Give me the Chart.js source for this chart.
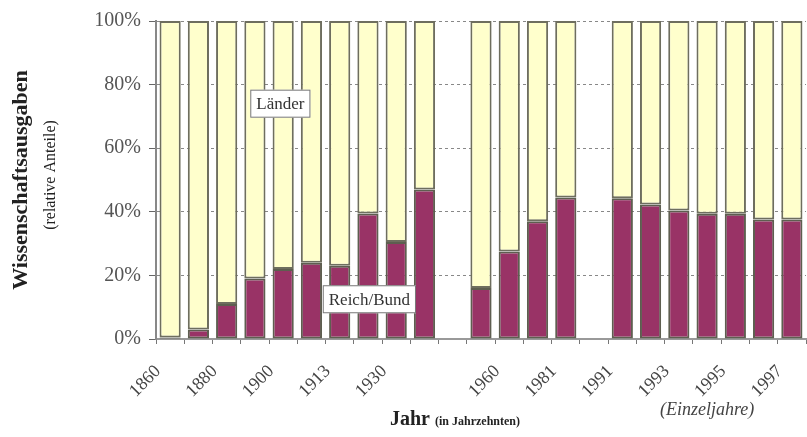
<!DOCTYPE html>
<html>
<head>
<meta charset="utf-8">
<script src="https://cdn.jsdelivr.net/npm/chart.js@4.4.0/dist/chart.umd.min.js"></script>
<style>
    html, body { margin: 0; padding: 0; background: #fff; }
    #wrap { width: 807px; height: 437px; }
</style>
</head>
<body>
<div id="wrap"><canvas id="chart-wissenschaft" width="807" height="437"></canvas></div>
<script>
// category labels (only every second slot is labelled, empty slots are gaps)
const jahre = ['1860', '', '1880', '', '1900', '', '1913', '', '1930', '', '',
    '', '1960', '', '1981', '', '1991', '', '1993', '', '1995', '', '1997'];

// shares in percent
const reichBund = [0.5, 3, 11, 19, 22, 24, 23, 39.5, 30.5, 47, null,
    16, 27.5, 37, 44.5, null, 44.3, 42.3, 40.4, 39.4, 39.4, 37.6, 37.6];
const laender = [99.5, 97, 89, 81, 78, 76, 77, 60.5, 69.5, 53, null,
    84, 72.5, 63, 55.5, null, 55.7, 57.7, 59.6, 60.6, 60.6, 62.4, 62.4];

const yTicks = [0, 20, 40, 60, 80, 100];

const serif = '"Liberation Serif", "DejaVu Serif", serif';

// text boxes inside the plot, placed by category index / value
const boxLabels = [
    { text: 'Länder', index: 3.9, value: 74 },
    { text: 'Reich/Bund', index: 7.05, value: 12.5 },
];

const textPlugin = {
    id: 'textPlugin',
    afterDatasetsDraw(chart) {
        const ctx = chart.ctx;
        const x = chart.scales.x;
        const y = chart.scales.y;

        ctx.save();
        ctx.font = '17px ' + serif;
        ctx.textAlign = 'center';
        ctx.textBaseline = 'middle';
        boxLabels.forEach(b => {
            const i0 = Math.floor(b.index);
            const p0 = x.getPixelForValue(i0);
            const p1 = x.getPixelForValue(i0 + 1);
            const cx = p0 + (p1 - p0) * (b.index - i0);
            const cy = y.getPixelForValue(b.value);
            const w = ctx.measureText(b.text).width + 12;
            const h = 28;
            ctx.fillStyle = '#fff';
            ctx.fillRect(cx - w / 2, cy - h / 2, w, h);
            ctx.strokeStyle = '#777';
            ctx.lineWidth = 1;
            ctx.strokeRect(cx - w / 2 + 0.5, cy - h / 2 + 0.5, w - 1, h - 1);
            ctx.fillStyle = '#333';
            ctx.fillText(b.text, cx, cy + 1);
        });
        ctx.restore();
    },
    afterDraw(chart) {
        const ctx = chart.ctx;
        ctx.save();

        // y axis title
        ctx.translate(21, 180);
        ctx.rotate(-Math.PI / 2);
        ctx.textAlign = 'center';
        ctx.textBaseline = 'middle';
        ctx.fillStyle = '#222';
        ctx.font = 'bold 22px ' + serif;
        ctx.fillText('Wissenschaftsausgaben', 0, 0);
        ctx.font = '16px ' + serif;
        ctx.fillText('(relative Anteile)', 5, 30);
        ctx.restore();

        // x axis titles
        ctx.save();
        ctx.textBaseline = 'alphabetic';
        ctx.fillStyle = '#222';
        ctx.textAlign = 'left';
        ctx.font = 'bold 20px ' + serif;
        ctx.fillText('Jahr', 390, 425);
        const wJahr = ctx.measureText('Jahr').width;
        ctx.font = 'bold 12px ' + serif;
        ctx.fillText('(in Jahrzehnten)', 390 + wJahr + 5, 425);
        ctx.font = 'italic 18px ' + serif;
        ctx.fillStyle = '#444';
        ctx.fillText('(Einzeljahre)', 660, 415);
        ctx.restore();
    }
};

new Chart(document.getElementById('chart-wissenschaft'), {
    type: 'bar',
    data: {
        labels: jahre,
        datasets: [{
            label: 'Reich/Bund',
            data: reichBund,
            backgroundColor: '#993366',
            borderColor: '#5e5e50',
            borderWidth: 2,
            borderSkipped: false,
            barPercentage: 0.75,
            categoryPercentage: 1,
        }, {
            label: 'Länder',
            data: laender,
            backgroundColor: '#ffffcc',
            borderColor: '#6e6e5e',
            borderWidth: 2,
            borderSkipped: false,
            barPercentage: 0.75,
            categoryPercentage: 1,
        }]
    },
    options: {
        responsive: false,
        animation: false,
        layout: { padding: { top: 21, right: 1, left: 0, bottom: 0 } },
        plugins: {
            legend: { display: false },
            tooltip: { enabled: false },
        },
        scales: {
            x: {
                stacked: true,
                afterFit: scale => {
                    scale.height = 98;
                    scale.paddingLeft = 0;
                    scale.paddingRight = 0;
                },
                grid: {
                    offset: true,
                    drawOnChartArea: false,
                    tickLength: 5,
                    color: '#777',
                },
                border: { color: '#999', width: 2 },
                ticks: {
                    autoSkip: false,
                    minRotation: 45,
                    maxRotation: 45,
                    padding: 17,
                    labelOffset: -12,
                    color: '#444',
                    font: { family: serif, size: 18 },
                },
            },
            y: {
                stacked: true,
                min: 0,
                max: 100,
                afterFit: scale => { scale.width = 156; },
                afterBuildTicks: scale => {
                    scale.ticks = yTicks.map(v => ({ value: v }));
                },
                grid: {
                    color: '#888',
                    tickLength: 7,
                    tickColor: '#666',
                    tickBorderDash: [],
                },
                border: { color: '#888', width: 2, dash: [3, 3] },
                ticks: {
                    padding: 8,
                    color: '#555',
                    font: { family: serif, size: 20 },
                    callback: v => v + '%',
                },
            },
        },
    },
    plugins: [textPlugin],
});
</script>
</body>
</html>
